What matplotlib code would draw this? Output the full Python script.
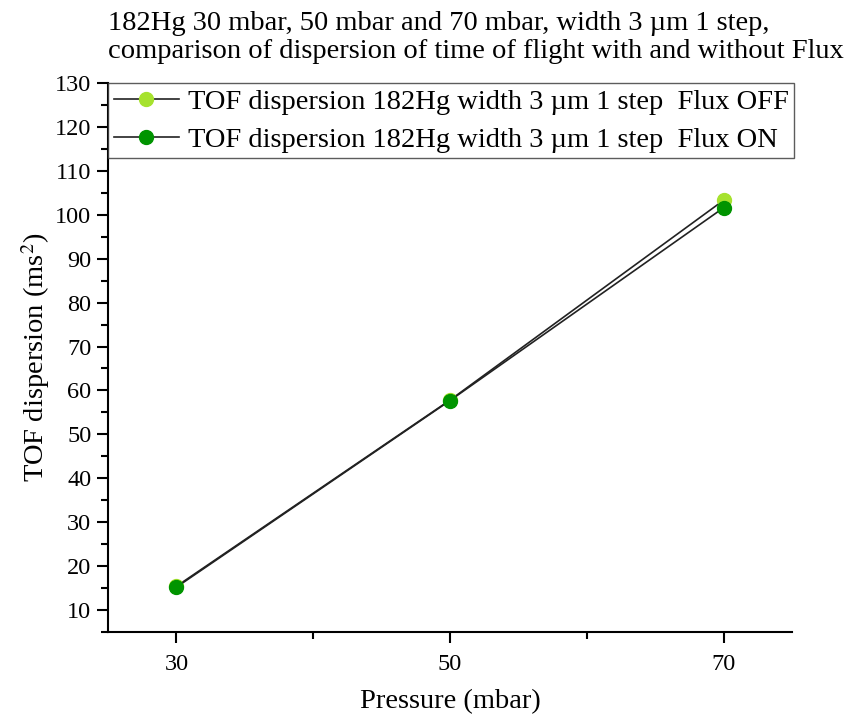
import numpy as np
import matplotlib.pyplot as plt
from matplotlib.ticker import MultipleLocator

plt.rcParams['font.family'] = ['Liberation Serif', 'DejaVu Serif']
plt.rcParams['mathtext.fontset'] = 'stix'

pressure = [30, 50, 70]
disp_off = [15.4, 57.8, 103.3]
disp_on = [15.2, 57.7, 101.6]
label_off = 'TOF dispersion 182Hg width 3 \u00b5m 1 step  Flux OFF'
label_on = 'TOF dispersion 182Hg width 3 \u00b5m 1 step  Flux ON'
title = ('182Hg 30 mbar, 50 mbar and 70 mbar, width 3 \u00b5m 1 step,\n'
         'comparison of dispersion of time of flight with and without Flux')

fig = plt.figure(figsize=(8.49, 7.18), dpi=100)
ax = fig.add_axes([108/849, 1 - 632/718, (792-108)/849, (632-83)/718])

ax.plot(pressure, disp_off, '-', color='#222222', lw=1.2, marker='o', ms=10,
        mfc='#a6e22e', mec='#a6e22e', label=label_off)
ax.plot(pressure, disp_on, '-', color='#222222', lw=1.2, marker='o', ms=10,
        mfc='#009400', mec='#009400', label=label_on)

ax.set_xlim(25, 75)
ax.set_ylim(5, 130)
ax.xaxis.set_minor_locator(MultipleLocator(10))
ax.yaxis.set_major_locator(MultipleLocator(10))
ax.yaxis.set_minor_locator(MultipleLocator(5))
ax.set_xticks(pressure)

for s in ['top', 'right']:
    ax.spines[s].set_visible(False)
for s in ['left', 'bottom']:
    ax.spines[s].set_linewidth(1.5)
ax.tick_params(which='major', direction='out', length=8, width=1.5, labelsize=17.5)
ax.tick_params(which='minor', direction='out', length=5, width=1.5)
ax.tick_params(axis='x', pad=8)
ax.tick_params(axis='y', pad=4)

ax.set_xlabel('Pressure (mbar)', fontsize=20.5, labelpad=10)
ax.set_ylabel('TOF dispersion (ms$^2$)', fontsize=20.5, labelpad=2)

fig.text(108/849, 1 - 64/718, title, fontsize=20.5, ha='left', va='bottom', linespacing=1.15)

leg = ax.legend(loc='upper left', bbox_to_anchor=(0.0, 1.0), fontsize=20.5,
                frameon=True, fancybox=False, edgecolor='#333333',
                borderaxespad=0.0, handlelength=2.3, handletextpad=0.3,
                labelspacing=0.42, borderpad=0.2)
leg.get_frame().set_linewidth(1.0)

fig.savefig('out.png', dpi=100)
